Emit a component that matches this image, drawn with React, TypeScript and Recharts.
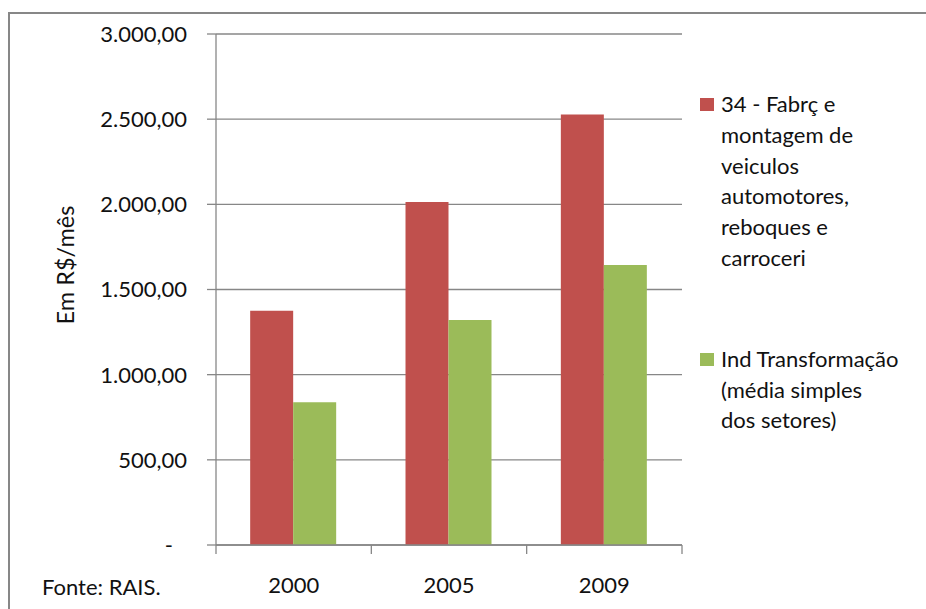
import React from 'react';
import { BarChart, Bar, XAxis, YAxis, CartesianGrid, Legend } from 'recharts';

// Salário médio mensal (R$) por ano
const years = ['2000', '2005', '2009'];
const veiculos = [1375, 2014, 2527];
const transformacao = [838, 1321, 1644];
const yTicks = [0, 500, 1000, 1500, 2000, 2500, 3000];

const seriesNames = [
  '34 - Fabrç e montagem de veiculos automotores, reboques e carroceri',
  'Ind Transformação (média simples dos setores)',
];
// Legend text as it wraps in the side panel
const legendLines = [
  ['34 - Fabrç e', 'montagem de', 'veiculos', 'automotores,', 'reboques e', 'carroceri'],
  ['Ind Transformação', '(média simples', 'dos setores)'],
];
const yAxisTitle = 'Em R$/mês';
const sourceNote = 'Fonte: RAIS.';

const RED = '#C0504D';
const GREEN = '#9BBB59';
const GRID = '#878787';
const TEXT = '#111111';
const FONT = 'Lato, "Open Sans", sans-serif';
const FONT_SIZE = 22;

const data = years.map((year, i) => ({
  year,
  veiculos: veiculos[i],
  transformacao: transformacao[i],
}));

// Brazilian number format; zero is shown as a dash (accounting style)
const formatBR = (v: number) => {
  if (v === 0) return '-';
  const [int, dec] = v.toFixed(2).split('.');
  return int.replace(/\B(?=(\d{3})+$)/g, '.') + ',' + dec;
};

const YTick = (props: any) => {
  const { x, y, payload } = props;
  const v = payload.value as number;
  return (
    <text
      x={v === 0 ? x - 14 : x}
      y={y}
      dy="0.36em"
      textAnchor="end"
      fill={TEXT}
      fontFamily={FONT}
      fontSize={FONT_SIZE}
    >
      {formatBR(v)}
    </text>
  );
};

// Category label plus tick marks on the band boundaries
const XTick = (props: any) => {
  const { x, y, payload, index, visibleTicksCount } = props;
  const half = payload.offset && payload.offset > 0 ? payload.offset : 466 / 6;
  const isLast = index === (visibleTicksCount ?? years.length) - 1;
  return (
    <g>
      <line x1={x - half} x2={x - half} y1={y} y2={y + 9} stroke={GRID} strokeWidth={1.3} />
      {isLast && (
        <line x1={x + half} x2={x + half} y1={y} y2={y + 9} stroke={GRID} strokeWidth={1.3} />
      )}
      <text
        x={x}
        y={y + 48}
        textAnchor="middle"
        fill={TEXT}
        fontFamily={FONT}
        fontSize={FONT_SIZE}
      >
        {payload.value}
      </text>
    </g>
  );
};

const LegendPanel = (props: any) => {
  const payload = props.payload || [];
  return (
    <div style={{ fontFamily: FONT, fontSize: FONT_SIZE, color: TEXT }}>
      {payload.map((entry: any, i: number) => (
        <div
          key={entry.value}
          style={{ position: 'relative', marginTop: i === 0 ? 0 : 70, lineHeight: '30.8px' }}
        >
          <span
            style={{
              position: 'absolute',
              left: 0,
              top: 9,
              width: 13.5,
              height: 13,
              background: entry.color,
            }}
          />
          <div style={{ paddingLeft: 21, whiteSpace: 'nowrap' }}>
            {legendLines[i].map((line) => (
              <div key={line}>{line}</div>
            ))}
          </div>
        </div>
      ))}
    </div>
  );
};

const YTitle = () => (
  <text
    x={65}
    y={265}
    transform="rotate(-90 65 265)"
    textAnchor="middle"
    dominantBaseline="central"
    fill={TEXT}
    fontFamily={FONT}
    fontSize={23.5}
  >
    {yAxisTitle}
  </text>
);

export default function App() {
  return (
    <div
      style={{
        position: 'absolute',
        left: 0,
        top: 0,
        width: 926,
        height: 609,
        overflow: 'hidden',
        background: '#ffffff',
      }}
    >
      <div
        style={{
          position: 'absolute',
          left: 8,
          top: 12,
          width: 960,
          height: 640,
          borderTop: `2px solid ${GRID}`,
          borderLeft: `2px solid ${GRID}`,
        }}
      />
      <div style={{ position: 'absolute', left: 0, top: 0 }}>
        <BarChart
          width={926}
          height={609}
          data={data}
          margin={{ top: 34, right: 244, bottom: 0, left: 0 }}
          barCategoryGap="22%"
          barGap={0}
        >
          <CartesianGrid vertical={false} stroke={GRID} strokeWidth={1.3} />
          <XAxis
            dataKey="year"
            height={64}
            axisLine={{ stroke: GRID, strokeWidth: 1.3 }}
            tickLine={false}
            tickSize={0}
            tickMargin={0}
            tick={<XTick />}
            interval={0}
          />
          <YAxis
            width={216}
            domain={[0, 3000]}
            ticks={yTicks}
            interval={0}
            axisLine={{ stroke: GRID, strokeWidth: 1.3 }}
            tickLine={{ stroke: GRID, strokeWidth: 1.3 }}
            tickSize={9}
            tickMargin={20}
            tick={<YTick />}
            label={{ content: () => <YTitle /> }}
          />
          <Legend
            layout="vertical"
            align="center"
            verticalAlign="middle"
            wrapperStyle={{ left: 700, top: 89, width: 226 }}
            content={<LegendPanel />}
          />
          <Bar dataKey="veiculos" name={seriesNames[0]} fill={RED} isAnimationActive={false} />
          <Bar dataKey="transformacao" name={seriesNames[1]} fill={GREEN} isAnimationActive={false} />
        </BarChart>
      </div>
      <div
        style={{
          position: 'absolute',
          left: 42,
          top: 574,
          fontFamily: FONT,
          fontSize: FONT_SIZE,
          color: TEXT,
          lineHeight: '26px',
          whiteSpace: 'nowrap',
        }}
      >
        {sourceNote}
      </div>
    </div>
  );
}
